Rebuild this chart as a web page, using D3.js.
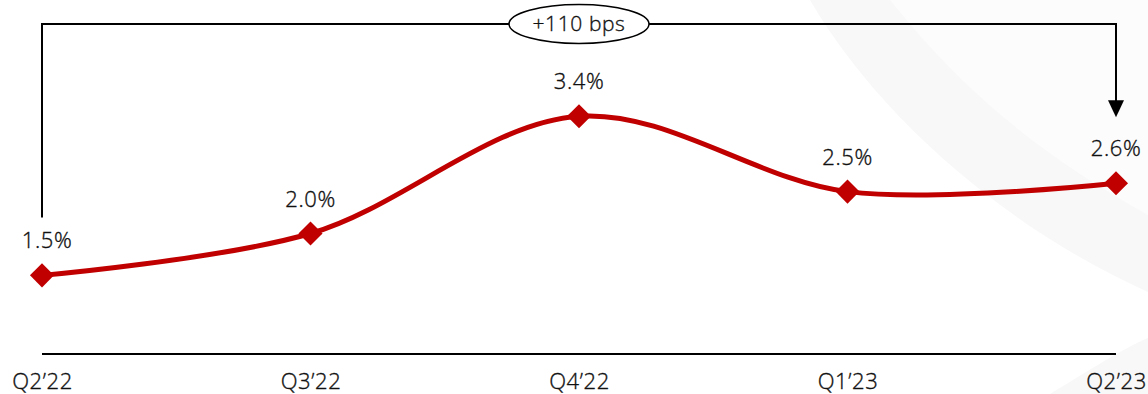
<!DOCTYPE html>
<html>
<head>
<meta charset="utf-8">
<script src="https://cdn.jsdelivr.net/npm/d3@7"></script>
<style>
  html, body { margin: 0; padding: 0; background: #fff; }
  svg { display: block; font-family: "Open Sans", "Noto Sans", sans-serif; }
</style>
</head>
<body>
<svg id="chart" width="1148" height="394"></svg>
<script>
// Quarterly rate, in percent
const quarters = ["Q2\u201922", "Q3\u201922", "Q4\u201922", "Q1\u201923", "Q2\u201923"];
const rates = [1.5, 2.0, 3.4, 2.5, 2.6];
const changeLabel = "+110 bps";

const W = 1148, H = 394;
const svg = d3.select("#chart");
const textStyle = sel => sel
  .attr("font-weight", 300)
  .attr("letter-spacing", 0.6)
  .attr("fill", "#111")
  .attr("stroke", "#111")
  .attr("stroke-width", 0.35);

// soft background swoosh
const bg = svg.append("g");
bg.append("path")
  .attr("d", "M810,0 C880,120 1010,230 1148,292 L1148,0 Z")
  .attr("fill", "#f8f8f8");
bg.append("path")
  .attr("d", "M890,0 C970,100 1050,160 1148,215 L1148,0 Z")
  .attr("fill", "#fcfcfc");
bg.append("path")
  .attr("d", "M1050,394 C1090,370 1120,350 1148,338 L1148,394 Z")
  .attr("fill", "#f8f8f8");

const x = d3.scalePoint().domain(quarters).range([42, 1116]);
const y = d3.scaleLinear().domain([0, 4]).range([401, 66]);

const data = quarters.map((q, i) => ({ q, v: rates[i] }));

// baseline axis with category labels
const axis = d3.axisBottom(x).tickSize(0).tickPadding(19);
const gAxis = svg.append("g").attr("transform", "translate(0,354)").call(axis);
gAxis.select(".domain").attr("stroke", "#000").attr("stroke-width", 2)
  .attr("d", `M${x(quarters[0])},0H${x(quarters[quarters.length - 1])}`);
gAxis.selectAll("text")
  .attr("font-size", 22)
  .attr("font-family", "\"Open Sans\", sans-serif")
  .call(textStyle);

// smoothed line
const line = d3.line()
  .x(d => x(d.q))
  .y(d => y(d.v))
  .curve(d3.curveCatmullRom.alpha(0.5));

svg.append("path")
  .datum(data)
  .attr("d", line)
  .attr("fill", "none")
  .attr("stroke", "#c00000")
  .attr("stroke-width", 5)
  .attr("stroke-linecap", "round");

// diamond markers
const diamond = d3.symbol().type(d3.symbolSquare).size(290);
svg.append("g").selectAll("path")
  .data(data)
  .join("path")
  .attr("d", diamond)
  .attr("transform", d => `translate(${x(d.q)},${y(d.v)}) rotate(45)`)
  .attr("fill", "#c00000");

// value labels
svg.append("g").selectAll("text")
  .data(data)
  .join("text")
  .attr("x", (d, i) => x(d.q) + (i === 0 ? 5 : 0))
  .attr("y", d => y(d.v) - 27)
  .attr("text-anchor", "middle")
  .attr("font-size", 22)
  .call(textStyle)
  .text(d => d3.format(".1f")(d.v) + "%");

// change bracket from first to last quarter
const x0 = x(quarters[0]), x1 = x(quarters[quarters.length - 1]);
const topY = 24;
const first = data[0], last = data[data.length - 1];
const bracket = svg.append("g");
bracket.append("path")
  .attr("d", `M${x0},${y(first.v) - 58}V${topY}H${x1}V${y(last.v) - 80}`)
  .attr("fill", "none")
  .attr("stroke", "#000")
  .attr("stroke-width", 2);
const tipY = y(last.v) - 66;
bracket.append("path")
  .attr("d", `M${x1 - 8},${tipY - 17}L${x1 + 8},${tipY - 17}L${x1},${tipY}Z`)
  .attr("fill", "#000");

const cx = (x0 + x1) / 2;
bracket.append("ellipse")
  .attr("cx", cx).attr("cy", topY)
  .attr("rx", 70).attr("ry", 19.5)
  .attr("fill", "#fff")
  .attr("stroke", "#000")
  .attr("stroke-width", 1.5);
bracket.append("text")
  .attr("x", cx).attr("y", topY + 7)
  .attr("text-anchor", "middle")
  .attr("font-size", 21)
  .call(textStyle)
  .text(changeLabel);
</script>
</body>
</html>
